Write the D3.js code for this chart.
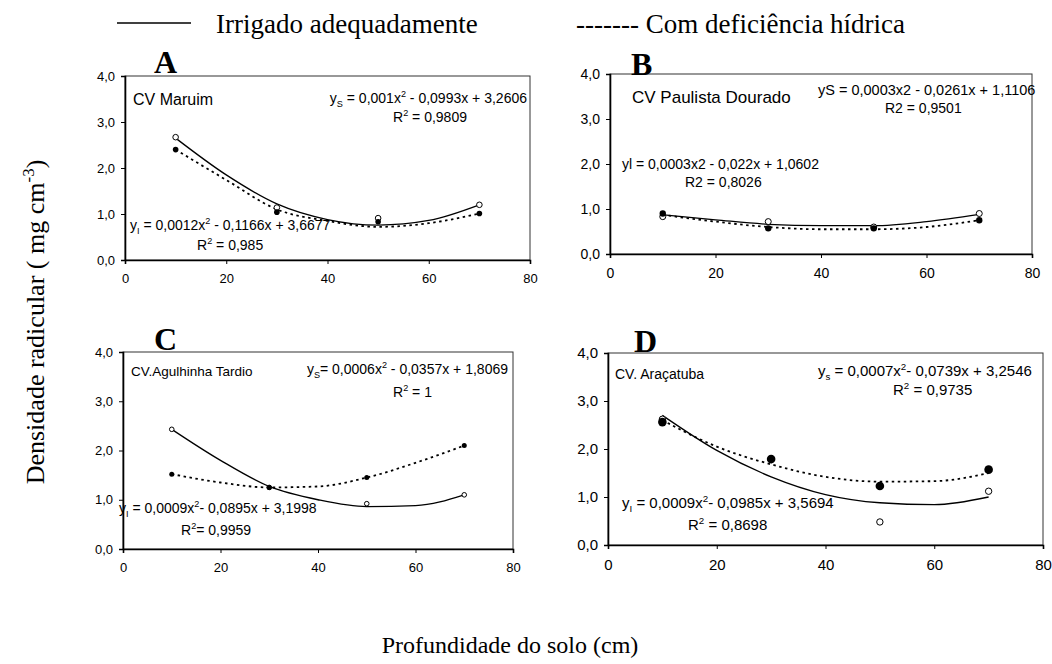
<!DOCTYPE html>
<html>
<head>
<meta charset="utf-8">
<title>Densidade radicular</title>
<script src="https://d3js.org/d3.v7.min.js"></script>
<style>
  body { margin: 0; background: #fff; }
  svg { display: block; }
</style>
</head>
<body>
<script>
var depth = [10, 30, 50, 70];
var trendX = [10, 20, 30, 40, 50, 60, 70];
var xTicks = [0, 20, 40, 60, 80];
var yTicks = [0, 1, 2, 3, 4];

// A - CV Maruim
var irrigA = [2.67, 1.14, 0.91, 1.20];
var defA = [2.40, 1.04, 0.83, 1.01];
var irrigTrendA = [2.65, 1.85, 1.22, 0.88, 0.76, 0.86, 1.20];
var defTrendA = [2.40, 1.74, 1.10, 0.85, 0.72, 0.80, 1.01];

// B - CV Paulista Dourado
var irrigB = [0.83, 0.72, 0.60, 0.90];
var defB = [0.90, 0.57, 0.57, 0.75];
var irrigTrendB = [0.87, 0.76, 0.66, 0.63, 0.63, 0.72, 0.88];
var defTrendB = [0.87, 0.72, 0.60, 0.55, 0.55, 0.60, 0.75];

// C - CV.Agulhinha Tardio
var irrigC = [2.43, 1.25, 0.92, 1.10];
var defC = [1.52, 1.25, 1.45, 2.10];
var irrigTrendC = [2.43, 1.80, 1.27, 1.00, 0.86, 0.88, 1.10];
var defTrendC = [1.52, 1.35, 1.25, 1.27, 1.45, 1.75, 2.10];

// D - CV. Araçatuba
var irrigD = [2.62, 1.78, 0.48, 1.12];
var defD = [2.56, 1.79, 1.23, 1.57];
var irrigTrendD = [2.70, 1.97, 1.42, 1.05, 0.88, 0.84, 1.00];
var defTrendD = [2.60, 2.05, 1.68, 1.42, 1.32, 1.33, 1.50];

var W = 1052, H = 664;
var serif = "'Liberation Serif', 'Times New Roman', serif";
var svg = d3.select("body").append("svg")
    .attr("width", W)
    .attr("height", H)
    .style("font-family", "'Liberation Sans', Arial, sans-serif");

// legend
svg.append("line")
    .attr("x1", 117).attr("x2", 191).attr("y1", 23).attr("y2", 23)
    .attr("stroke", "#000").attr("stroke-width", 1.5);
svg.append("text")
    .attr("x", 216).attr("y", 33)
    .style("font-family", serif)
    .style("font-size", "27px")
    .text("Irrigado adequadamente");
svg.append("text")
    .attr("x", 576).attr("y", 33)
    .style("font-family", serif)
    .style("font-size", "27px")
    .text("------- Com deficiência hídrica");

// axis titles
svg.append("text")
    .attr("transform", "translate(44,322) rotate(-90)")
    .attr("text-anchor", "middle")
    .style("font-family", serif)
    .style("font-size", "26px")
    .call(function (t) {
        t.append("tspan").text("Densidade radicular ( mg cm");
        t.append("tspan").attr("dy", -10).style("font-size", "17px").text("-3");
        t.append("tspan").attr("dy", 10).text(")");
    });
svg.append("text")
    .attr("x", 510).attr("y", 653)
    .attr("text-anchor", "middle")
    .style("font-family", serif)
    .style("font-size", "24px")
    .text("Profundidade do solo (cm)");

function addEq(g, x, y, parts, size, anchor) {
    var t = g.append("text").attr("x", x).attr("y", y)
        .attr("text-anchor", anchor || "start")
        .style("font-size", size + "px");
    parts.forEach(function (p) {
        var s = t.append("tspan").text(p[0]);
        if (p[1] == "sub") {
            s.attr("dy", 4).style("font-size", (size * 0.65) + "px");
        } else if (p[1] == "sup") {
            s.attr("dy", -6).style("font-size", (size * 0.65) + "px");
        } else if (p[1] == "back") {
            s.attr("dy", p[2]);
        }
    });
}

function drawPanel(p) {
    var g = svg.append("g");
    var x = d3.scaleLinear().domain([0, 80]).range([p.left, p.right]);
    var y = d3.scaleLinear().domain([0, 4]).range([p.bottom, p.top]);

    // plot border
    g.append("rect")
        .attr("x", p.left).attr("y", p.top)
        .attr("width", p.right - p.left).attr("height", p.bottom - p.top)
        .attr("fill", "none").attr("stroke", "#333").attr("stroke-width", 1);

    var yAxis = g.append("g")
        .attr("transform", "translate(" + p.left + ",0)")
        .call(d3.axisLeft(y).tickValues(yTicks).tickSize(4).tickPadding(6)
            .tickFormat(function (d) { return d3.format(".1f")(d).replace(".", ","); }));
    var xAxis = g.append("g")
        .attr("transform", "translate(0," + p.bottom + ")")
        .call(d3.axisBottom(x).tickValues(xTicks).tickSize(4).tickPadding(10));
    [xAxis, yAxis].forEach(function (a) {
        a.select(".domain").attr("stroke", "#000").attr("stroke-width", 1.6);
        a.selectAll(".tick line").attr("stroke", "#000");
        a.selectAll("text").style("font-size", p.tickSize + "px")
            .style("font-family", "'Liberation Sans', Arial, sans-serif").attr("fill", "#000");
    });

    var line = d3.line()
        .x(function (d) { return x(d[0]); })
        .y(function (d) { return y(d[1]); })
        .curve(d3.curveMonotoneX);

    g.append("path")
        .attr("d", line(d3.zip(trendX, p.irrigTrend)))
        .attr("fill", "none").attr("stroke", "#000").attr("stroke-width", 1.3);
    g.append("path")
        .attr("d", line(d3.zip(trendX, p.defTrend)))
        .attr("fill", "none").attr("stroke", "#000").attr("stroke-width", 1.8)
        .attr("stroke-dasharray", "2.5,3.5");

    g.selectAll(".open").data(d3.zip(depth, p.irrig)).enter()
        .append("circle")
        .attr("cx", function (d) { return x(d[0]); })
        .attr("cy", function (d) { return y(d[1]); })
        .attr("r", p.rOpen)
        .attr("fill", "#fff").attr("stroke", "#000").attr("stroke-width", 1);
    g.selectAll(".filled").data(d3.zip(depth, p.def)).enter()
        .append("circle")
        .attr("cx", function (d) { return x(d[0]); })
        .attr("cy", function (d) { return y(d[1]); })
        .attr("r", p.rFilled)
        .attr("fill", "#000");

    // panel letter
    svg.append("text")
        .attr("x", p.letterX).attr("y", p.letterY)
        .style("font-family", serif)
        .style("font-weight", "bold")
        .style("font-size", "32px")
        .text(p.letter);

    g.append("text")
        .attr("x", p.nameX).attr("y", p.nameY)
        .style("font-size", p.nameSize + "px")
        .text(p.name);

    p.texts.forEach(function (e) {
        addEq(g, e.x, e.y, e.parts, e.size, e.anchor);
    });
}

drawPanel({
    left: 125, right: 530, top: 76, bottom: 260,
    letter: "A", letterX: 154, letterY: 73, tickSize: 13,
    name: "CV Maruim", nameX: 133, nameY: 105, nameSize: 16,
    irrig: irrigA, def: defA, irrigTrend: irrigTrendA, defTrend: defTrendA,
    rOpen: 2.8, rFilled: 2.8,
    texts: [
        { x: 527, y: 103, size: 14, anchor: "end",
          parts: [["y"], ["S", "sub"], [" = 0,001x", "back", -4], ["2", "sup"], [" - 0,0993x + 3,2606", "back", 6]] },
        { x: 393, y: 122, size: 14,
          parts: [["R"], ["2", "sup"], [" = 0,9809", "back", 6]] },
        { x: 130, y: 230, size: 14,
          parts: [["y"], ["I", "sub"], [" = 0,0012x", "back", -4], ["2", "sup"], [" - 0,1166x + 3,6677", "back", 6]] },
        { x: 197, y: 250, size: 14,
          parts: [["R"], ["2", "sup"], [" = 0,985", "back", 6]] }
    ]
});

drawPanel({
    left: 610, right: 1032, top: 74, bottom: 254,
    letter: "B", letterX: 631, letterY: 75, tickSize: 14,
    name: "CV Paulista Dourado", nameX: 632, nameY: 103, nameSize: 17,
    irrig: irrigB, def: defB, irrigTrend: irrigTrendB, defTrend: defTrendB,
    rOpen: 3, rFilled: 3.2,
    texts: [
        { x: 818, y: 95, size: 14.5,
          parts: [["yS = 0,0003x2 - 0,0261x + 1,1106"]] },
        { x: 885, y: 113, size: 14,
          parts: [["R2 = 0,9501"]] },
        { x: 622, y: 169, size: 14,
          parts: [["yl = 0,0003x2 - 0,022x + 1,0602"]] },
        { x: 685, y: 187, size: 14,
          parts: [["R2 = 0,8026"]] }
    ]
});

drawPanel({
    left: 123, right: 513, top: 352, bottom: 549,
    letter: "C", letterX: 154, letterY: 350, tickSize: 13,
    name: "CV.Agulhinha Tardio", nameX: 131, nameY: 376, nameSize: 13.5,
    irrig: irrigC, def: defC, irrigTrend: irrigTrendC, defTrend: defTrendC,
    rOpen: 2.3, rFilled: 2.5,
    texts: [
        { x: 508, y: 374, size: 14, anchor: "end",
          parts: [["y"], ["S", "sub"], ["= 0,0006x", "back", -4], ["2", "sup"], [" - 0,0357x + 1,8069", "back", 6]] },
        { x: 393, y: 397, size: 14,
          parts: [["R"], ["2", "sup"], [" = 1", "back", 6]] },
        { x: 119, y: 513, size: 14,
          parts: [["y"], ["I", "sub"], [" = 0,0009x", "back", -4], ["2", "sup"], ["- 0,0895x + 3,1998", "back", 6]] },
        { x: 181, y: 535, size: 14,
          parts: [["R"], ["2", "sup"], ["= 0,9959", "back", 6]] }
    ]
});

drawPanel({
    left: 608, right: 1043, top: 353, bottom: 545,
    letter: "D", letterX: 634, letterY: 352, tickSize: 15,
    name: "CV.  Araçatuba", nameX: 615, nameY: 379, nameSize: 14,
    irrig: irrigD, def: defD, irrigTrend: irrigTrendD, defTrend: defTrendD,
    rOpen: 3.2, rFilled: 4.3,
    texts: [
        { x: 818, y: 376, size: 15,
          parts: [["y"], ["s", "sub"], [" = 0,0007x", "back", -4], ["2", "sup"], ["- 0,0739x + 3,2546", "back", 6]] },
        { x: 893, y: 395, size: 15,
          parts: [["R"], ["2", "sup"], [" = 0,9735", "back", 6]] },
        { x: 622, y: 508, size: 15,
          parts: [["y"], ["I", "sub"], [" = 0,0009x", "back", -4], ["2", "sup"], ["- 0,0985x + 3,5694", "back", 6]] },
        { x: 688, y: 530, size: 15,
          parts: [["R"], ["2", "sup"], [" = 0,8698", "back", 6]] }
    ]
});
</script>
</body>
</html>
